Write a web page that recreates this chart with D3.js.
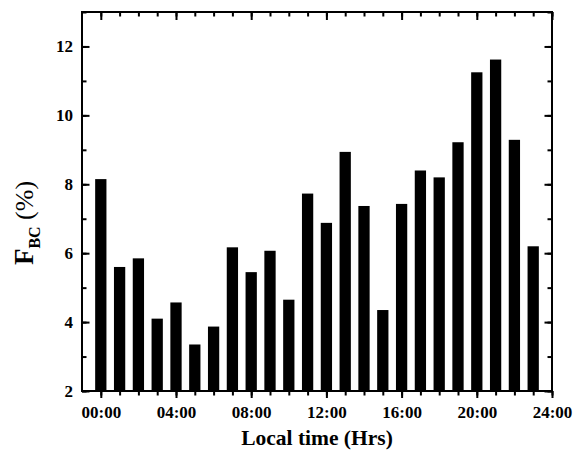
<!DOCTYPE html>
<html>
<head>
<meta charset="utf-8">
<script src="https://cdn.jsdelivr.net/npm/d3@7"></script>
<style>
  html, body { margin: 0; padding: 0; background: #fff; }
  svg { display: block; }
  text { font-family: "Liberation Serif", "Times New Roman", serif; fill: #000; }
</style>
</head>
<body>
<svg id="chart" width="574" height="456"></svg>
<script>
// Data
const hours = [0,1,2,3,4,5,6,7,8,9,10,11,12,13,14,15,16,17,18,19,20,21,22,23];
const fbc = [8.15,5.6,5.85,4.1,4.57,3.35,3.87,6.17,5.45,6.07,4.65,7.73,6.88,8.94,7.37,4.35,7.43,8.4,8.2,9.22,11.25,11.62,9.29,6.2];
const xMajorTicks = [0,4,8,12,16,20,24];
const xTickLabels = ["00:00","04:00","08:00","12:00","16:00","20:00","24:00"];
const yMajorTicks = [2,4,6,8,10,12];
const xMinorTicks = d3.range(0,25,1);
const yMinorTicks = d3.range(2,14,1);

const svg = d3.select("#chart");
const L = 82, R = 552, T = 12, B = 391;
const x = d3.scaleLinear().domain([-1,24]).range([L,R]);
const y = d3.scaleLinear().domain([2,13]).range([B,T]);
const bw = (x(1)-x(0))*0.6;

// bars
svg.append("g").selectAll("rect").data(hours).join("rect")
  .attr("x", d => x(d) - bw/2)
  .attr("width", bw)
  .attr("y", (d,i) => y(fbc[i]))
  .attr("height", (d,i) => y(2) - y(fbc[i]))
  .attr("fill", "#000");

function styleAxis(g) {
  g.select(".domain").remove();
  g.selectAll(".tick line").attr("stroke", "#000").attr("stroke-width", 2);
}

// bottom (outward)
svg.append("g").attr("transform", `translate(0,${B})`)
  .call(d3.axisBottom(x).tickValues(xMinorTicks).tickSize(4.5).tickFormat(""))
  .call(styleAxis);
svg.append("g").attr("transform", `translate(0,${B})`)
  .call(d3.axisBottom(x).tickValues(xMajorTicks).tickSize(7).tickPadding(8)
    .tickFormat((d,i) => xTickLabels[i]))
  .call(styleAxis)
  .call(g => g.selectAll("text").attr("font-size", 17).attr("font-weight", "bold")
    .style("font-family", "'Liberation Serif', serif"));

// top (inward)
svg.append("g").attr("transform", `translate(0,${T})`)
  .call(d3.axisTop(x).tickValues(xMinorTicks).tickSize(-4.5).tickFormat(""))
  .call(styleAxis);
svg.append("g").attr("transform", `translate(0,${T})`)
  .call(d3.axisTop(x).tickValues(xMajorTicks).tickSize(-8).tickFormat(""))
  .call(styleAxis);

// left (inward)
svg.append("g").attr("transform", `translate(${L},0)`)
  .call(d3.axisLeft(y).tickValues(yMinorTicks).tickSize(-4.5).tickFormat(""))
  .call(styleAxis);
svg.append("g").attr("transform", `translate(${L},0)`)
  .call(d3.axisLeft(y).tickValues(yMajorTicks).tickSize(-7.5).tickPadding(9).tickFormat(d3.format("d")))
  .call(styleAxis)
  .call(g => g.selectAll("text").attr("font-size", 17).attr("font-weight", "bold")
    .style("font-family", "'Liberation Serif', serif"));

// right (inward)
svg.append("g").attr("transform", `translate(${R},0)`)
  .call(d3.axisRight(y).tickValues(yMinorTicks).tickSize(-4.5).tickFormat(""))
  .call(styleAxis);
svg.append("g").attr("transform", `translate(${R},0)`)
  .call(d3.axisRight(y).tickValues(yMajorTicks).tickSize(-7.5).tickFormat(""))
  .call(styleAxis);

// frame
svg.append("rect").attr("x", L).attr("y", T).attr("width", R-L).attr("height", B-T)
  .attr("fill", "none").attr("stroke", "#000").attr("stroke-width", 2);

// x title
svg.append("text").attr("x", 317).attr("y", 445).attr("text-anchor", "middle")
  .attr("font-size", 21.5).attr("font-weight", "bold").text("Local time (Hrs)");

// y title
const yt = svg.append("text").attr("transform", "translate(33,223) rotate(-90)")
  .attr("text-anchor", "middle");
yt.append("tspan").attr("font-size", 27).attr("font-weight", "bold").text("F");
yt.append("tspan").attr("font-size", 16).attr("font-weight", "bold").attr("dy", 7).text("BC");
yt.append("tspan").attr("font-size", 26).attr("dy", -7).text("\u00a0(%)");
</script>
</body>
</html>
